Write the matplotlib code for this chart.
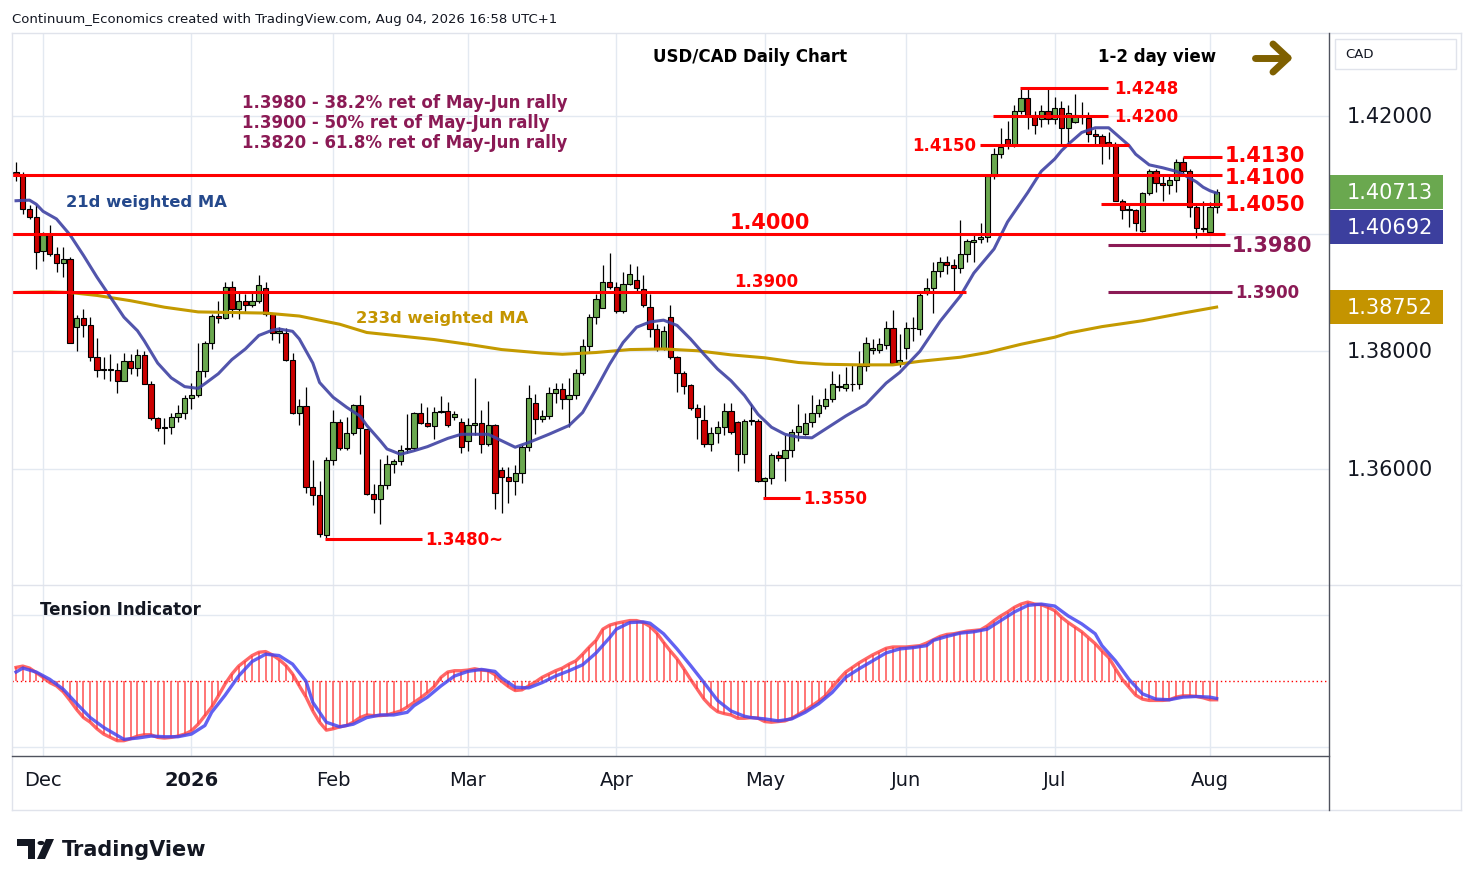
import numpy as np
import pandas as pd
import matplotlib
matplotlib.use("Agg")
import matplotlib.pyplot as plt
from matplotlib.lines import Line2D
from matplotlib.patches import Rectangle, Polygon, Circle

# USD/CAD daily candles, 25 Nov 2025 - 4 Aug 2026
opens = [
    1.4105, 1.4099, 1.4042, 1.4028,
    1.3971, 1.3998, 1.3965, 1.3950, 1.3957, 1.3842, 1.3857, 1.3844, 1.3791, 1.3770,
    1.3769, 1.3769, 1.3749, 1.3784, 1.3772, 1.3794, 1.3744, 1.3686, 1.3671, 1.3671,
    1.3688, 1.3695, 1.3720, 1.3726, 1.3766, 1.3814, 1.3860, 1.3856, 1.3909, 1.3872,
    1.3885, 1.3879, 1.3885, 1.3907, 1.3863, 1.3832, 1.3832, 1.3785, 1.3695, 1.3707,
    1.3569, 1.3556, 1.3488, 1.3615, 1.3680, 1.3635, 1.3661, 1.3708, 1.3668, 1.3557,
    1.3549, 1.3573, 1.3608, 1.3613, 1.3634, 1.3635, 1.3695, 1.3678, 1.3673, 1.3697,
    1.3698, 1.3688, 1.3680, 1.3648, 1.3674, 1.3678, 1.3642, 1.3674, 1.3598, 1.3586,
    1.3579, 1.3593, 1.3637, 1.3713, 1.3685, 1.3690, 1.3730, 1.3736, 1.3719, 1.3725,
    1.3763, 1.3809, 1.3858, 1.3874, 1.3918, 1.3910, 1.3869, 1.3914, 1.3922, 1.3906,
    1.3876, 1.3838, 1.3804, 1.3858, 1.3790, 1.3764, 1.3742, 1.3703, 1.3683, 1.3642,
    1.3662, 1.3671, 1.3699, 1.3680, 1.3625, 1.3682, 1.3682, 1.3580, 1.3584, 1.3623,
    1.3618, 1.3632, 1.3663, 1.3659, 1.3680, 1.3695, 1.3707, 1.3719, 1.3741, 1.3737,
    1.3744, 1.3744, 1.3775, 1.3802, 1.3802, 1.3811, 1.3839, 1.3781, 1.3805, 1.3839,
    1.3838, 1.3899, 1.3907, 1.3936, 1.3951, 1.3946, 1.3941, 1.3965, 1.3985, 1.3991,
    1.3994, 1.4098, 1.4135, 1.4161, 1.4150, 1.4208, 1.4231, 1.4202, 1.4195, 1.4208,
    1.4195, 1.4213, 1.4180, 1.4189, 1.4199, 1.4197, 1.4170, 1.4166, 1.4156, 1.4153,
    1.4056, 1.4040, 1.4040, 1.4005, 1.4069, 1.4106, 1.4086, 1.4083, 1.4091, 1.4121,
    1.4107, 1.4045, 1.4009, 1.4003, 1.4045]
highs = [
    1.4122, 1.4104, 1.4048, 1.4049,
    1.4003, 1.4015, 1.3977, 1.3977, 1.3960, 1.3861, 1.3872, 1.3858, 1.3822, 1.3790,
    1.3795, 1.3781, 1.3798, 1.3796, 1.3804, 1.3801, 1.3749, 1.3688, 1.3686, 1.3696,
    1.3708, 1.3725, 1.3747, 1.3815, 1.3818, 1.3863, 1.3886, 1.3918, 1.3919, 1.3899,
    1.3897, 1.3902, 1.3929, 1.3917, 1.3866, 1.3841, 1.3839, 1.3798, 1.3719, 1.3739,
    1.3615, 1.3580, 1.3620, 1.3701, 1.3685, 1.3688, 1.3710, 1.3725, 1.3668, 1.3574,
    1.3617, 1.3623, 1.3617, 1.3640, 1.3693, 1.3697, 1.3713, 1.3705, 1.3705, 1.3724,
    1.3714, 1.3698, 1.3686, 1.3686, 1.3754, 1.3700, 1.3716, 1.3676, 1.3603, 1.3603,
    1.3606, 1.3640, 1.3742, 1.3727, 1.3700, 1.3739, 1.3747, 1.3747, 1.3755, 1.3770,
    1.3821, 1.3863, 1.3897, 1.3946, 1.3967, 1.3917, 1.3934, 1.3948, 1.3945, 1.3929,
    1.3897, 1.3846, 1.3843, 1.3878, 1.3792, 1.3766, 1.3745, 1.3710, 1.3708, 1.3671,
    1.3682, 1.3713, 1.3713, 1.3682, 1.3685, 1.3710, 1.3685, 1.3587, 1.3628, 1.3631,
    1.3657, 1.3668, 1.3710, 1.3696, 1.3725, 1.3719, 1.3737, 1.3767, 1.3761, 1.3773,
    1.3776, 1.3801, 1.3824, 1.3821, 1.3822, 1.3852, 1.3871, 1.3829, 1.3850, 1.3858,
    1.3900, 1.3924, 1.3951, 1.3960, 1.3962, 1.3957, 1.4023, 1.3991, 1.3997, 1.4018,
    1.4100, 1.4145, 1.4180, 1.4192, 1.4218, 1.4246, 1.4248, 1.4209, 1.4218, 1.4246,
    1.4232, 1.4226, 1.4218, 1.4237, 1.4223, 1.4206, 1.4178, 1.4170, 1.4172, 1.4155,
    1.4059, 1.4048, 1.4042, 1.4071, 1.4110, 1.4110, 1.4099, 1.4099, 1.4127, 1.4130,
    1.4110, 1.4050, 1.4056, 1.4054, 1.4076]
lows = [
    1.4090, 1.4033, 1.4025, 1.3940,
    1.3954, 1.3962, 1.3935, 1.3926, 1.3814, 1.3800, 1.3824, 1.3784, 1.3756, 1.3753,
    1.3750, 1.3730, 1.3749, 1.3762, 1.3758, 1.3744, 1.3683, 1.3665, 1.3642, 1.3659,
    1.3680, 1.3685, 1.3702, 1.3722, 1.3756, 1.3804, 1.3849, 1.3855, 1.3858, 1.3855,
    1.3866, 1.3876, 1.3882, 1.3860, 1.3820, 1.3815, 1.3783, 1.3694, 1.3674, 1.3560,
    1.3538, 1.3485, 1.3483, 1.3606, 1.3632, 1.3632, 1.3657, 1.3626, 1.3555, 1.3526,
    1.3506, 1.3566, 1.3594, 1.3606, 1.3628, 1.3633, 1.3676, 1.3671, 1.3651, 1.3695,
    1.3671, 1.3683, 1.3628, 1.3631, 1.3657, 1.3628, 1.3639, 1.3532, 1.3526, 1.3543,
    1.3555, 1.3576, 1.3631, 1.3660, 1.3680, 1.3685, 1.3713, 1.3702, 1.3671, 1.3719,
    1.3759, 1.3801, 1.3846, 1.3873, 1.3906, 1.3866, 1.3866, 1.3912, 1.3903, 1.3876,
    1.3824, 1.3801, 1.3803, 1.3787, 1.3731, 1.3727, 1.3700, 1.3651, 1.3637, 1.3631,
    1.3645, 1.3657, 1.3660, 1.3597, 1.3611, 1.3674, 1.3578, 1.3552, 1.3574, 1.3614,
    1.3580, 1.3620, 1.3648, 1.3657, 1.3672, 1.3688, 1.3702, 1.3714, 1.3733, 1.3733,
    1.3733, 1.3736, 1.3767, 1.3796, 1.3797, 1.3804, 1.3776, 1.3773, 1.3787, 1.3817,
    1.3827, 1.3895, 1.3866, 1.3926, 1.3931, 1.3900, 1.3933, 1.3951, 1.3951, 1.3984,
    1.3985, 1.4093, 1.4128, 1.4144, 1.4148, 1.4203, 1.4178, 1.4169, 1.4181, 1.4186,
    1.4186, 1.4150, 1.4150, 1.4188, 1.4186, 1.4155, 1.4150, 1.4118, 1.4127, 1.4055,
    1.4025, 1.4011, 1.4005, 1.4002, 1.4065, 1.4070, 1.4056, 1.4067, 1.4070, 1.4103,
    1.4028, 1.3992, 1.4002, 1.4001, 1.4035]
closes = [
    1.4099, 1.4042, 1.4028, 1.3968,
    1.3997, 1.3965, 1.3950, 1.3957, 1.3814, 1.3857, 1.3845, 1.3791, 1.3768, 1.3769,
    1.3770, 1.3749, 1.3784, 1.3772, 1.3794, 1.3744, 1.3686, 1.3669, 1.3670, 1.3688,
    1.3695, 1.3720, 1.3726, 1.3766, 1.3814, 1.3860, 1.3856, 1.3909, 1.3872, 1.3885,
    1.3879, 1.3885, 1.3913, 1.3863, 1.3832, 1.3835, 1.3785, 1.3696, 1.3707, 1.3569,
    1.3556, 1.3490, 1.3615, 1.3680, 1.3635, 1.3661, 1.3708, 1.3670, 1.3557, 1.3549,
    1.3573, 1.3608, 1.3614, 1.3633, 1.3635, 1.3695, 1.3678, 1.3673, 1.3697, 1.3698,
    1.3674, 1.3694, 1.3637, 1.3674, 1.3678, 1.3642, 1.3674, 1.3559, 1.3586, 1.3579,
    1.3593, 1.3637, 1.3720, 1.3685, 1.3690, 1.3730, 1.3736, 1.3719, 1.3725, 1.3763,
    1.3809, 1.3858, 1.3889, 1.3918, 1.3910, 1.3869, 1.3914, 1.3931, 1.3908, 1.3878,
    1.3838, 1.3804, 1.3834, 1.3790, 1.3764, 1.3741, 1.3703, 1.3688, 1.3642, 1.3662,
    1.3671, 1.3699, 1.3663, 1.3625, 1.3682, 1.3683, 1.3580, 1.3584, 1.3623, 1.3618,
    1.3632, 1.3663, 1.3673, 1.3678, 1.3695, 1.3708, 1.3719, 1.3744, 1.3740, 1.3744,
    1.3745, 1.3775, 1.3814, 1.3806, 1.3812, 1.3839, 1.3781, 1.3786, 1.3839, 1.3840,
    1.3896, 1.3907, 1.3936, 1.3951, 1.3946, 1.3941, 1.3965, 1.3987, 1.3989, 1.3995,
    1.4098, 1.4135, 1.4147, 1.4150, 1.4208, 1.4231, 1.4202, 1.4185, 1.4208, 1.4195,
    1.4213, 1.4180, 1.4205, 1.4201, 1.4198, 1.4170, 1.4166, 1.4151, 1.4152, 1.4056,
    1.4040, 1.4040, 1.4018, 1.4069, 1.4106, 1.4086, 1.4083, 1.4091, 1.4121, 1.4107,
    1.4045, 1.4009, 1.4008, 1.4045, 1.4071]

# 21d weighted MA, read at bar numbers (bar 0 = 25 Nov 2025)
wma21_bars = [0, 2, 3, 4, 6, 8, 10, 12, 14, 16, 18, 19, 21, 23, 25, 27, 28, 30, 32,
              34, 36, 38, 39, 41, 42, 44, 45, 47, 49, 51, 52, 54, 55, 57, 59, 61,
              64, 66, 68, 70, 72, 74, 76, 79, 82, 84, 86, 88, 90, 92, 94, 96, 98,
              100, 102, 104, 106, 108, 110, 112, 114, 116, 118, 123, 126, 129, 131,
              134, 137, 140, 142, 145, 147, 150, 152, 154, 155, 156, 158, 160, 162,
              163, 165, 166, 168, 170, 172, 173, 175, 176, 177, 178]
wma21_vals = [1.4056, 1.4057, 1.4050, 1.4038, 1.4025, 1.3998, 1.3963, 1.3926, 1.3892,
              1.3858, 1.3835, 1.3818, 1.3780, 1.3755, 1.3740, 1.3737, 1.3745, 1.3762,
              1.3786, 1.3804, 1.3827, 1.3836, 1.3838, 1.3834, 1.3821, 1.3780, 1.3747,
              1.3722, 1.3705, 1.3690, 1.3674, 1.3648, 1.3634, 1.3625, 1.3631, 1.3638,
              1.3652, 1.3659, 1.3659, 1.3659, 1.3648, 1.3637, 1.3645, 1.3659, 1.3674,
              1.3696, 1.3736, 1.3778, 1.3815, 1.3841, 1.3850, 1.3853, 1.3844, 1.3821,
              1.3795, 1.3770, 1.3750, 1.3725, 1.3693, 1.3671, 1.3659, 1.3654, 1.3653,
              1.3690, 1.3710, 1.3746, 1.3764, 1.3800, 1.3851, 1.3894, 1.3933, 1.3974,
              1.4020, 1.4070, 1.4106, 1.4127, 1.4141, 1.4152, 1.4172, 1.4180, 1.4180,
              1.4170, 1.4150, 1.4135, 1.4117, 1.4112, 1.4106, 1.4101, 1.4088, 1.4079,
              1.4073, 1.4069]

# 233d weighted MA
ma233_bars = [0, 5, 8, 12, 17, 22, 27, 32, 37, 42, 48, 52, 57, 62, 67, 72, 78, 81, 86,
              91, 96, 101, 106, 111, 116, 120, 125, 130, 134, 140, 144, 149, 154, 156,
              161, 167, 173, 178]
ma233_vals = [1.3900, 1.3901, 1.3900, 1.3895, 1.3886, 1.3875, 1.3867, 1.3866, 1.3865,
              1.3860, 1.3846, 1.3832, 1.3826, 1.3820, 1.3812, 1.3803, 1.3797, 1.3795,
              1.3798, 1.3803, 1.3804, 1.3801, 1.3794, 1.3789, 1.3781, 1.3778, 1.3777,
              1.3777, 1.3783, 1.3790, 1.3798, 1.3812, 1.3824, 1.3831, 1.3842, 1.3852,
              1.3865, 1.38752]

# Tension indicator: fast line (one value per bar) and slow line (read at bar numbers)
tension_fast = [
    0.21, 0.23, 0.20, 0.13,
    0.06, -0.02, -0.07, -0.16, -0.29, -0.43, -0.55, -0.62, -0.72, -0.80,
    -0.85, -0.90, -0.90, -0.87, -0.83, -0.81, -0.81, -0.85, -0.86, -0.85,
    -0.83, -0.80, -0.75, -0.65, -0.52, -0.39, -0.22, -0.04, 0.11, 0.23,
    0.31, 0.39, 0.44, 0.45, 0.40, 0.33, 0.24, 0.11, -0.07, -0.24,
    -0.45, -0.62, -0.74, -0.72, -0.69, -0.67, -0.62, -0.55, -0.51, -0.52,
    -0.52, -0.51, -0.48, -0.45, -0.39, -0.32, -0.25, -0.17, -0.08, 0.06,
    0.14, 0.16, 0.16, 0.17, 0.19, 0.17, 0.16, 0.10, 0.00, -0.08,
    -0.14, -0.13, -0.07, -0.01, 0.06, 0.11, 0.16, 0.20, 0.26, 0.31,
    0.41, 0.52, 0.62, 0.79, 0.85, 0.88, 0.90, 0.92, 0.92, 0.89,
    0.83, 0.73, 0.59, 0.46, 0.34, 0.19, 0.03, -0.12, -0.27, -0.38,
    -0.46, -0.49, -0.51, -0.56, -0.56, -0.55, -0.56, -0.61, -0.62, -0.61,
    -0.60, -0.56, -0.50, -0.44, -0.37, -0.30, -0.22, -0.09, 0.03, 0.14,
    0.21, 0.28, 0.34, 0.40, 0.45, 0.50, 0.52, 0.52, 0.52, 0.53,
    0.54, 0.58, 0.63, 0.68, 0.71, 0.72, 0.74, 0.76, 0.77, 0.78,
    0.84, 0.92, 0.99, 1.05, 1.12, 1.17, 1.20, 1.17, 1.16, 1.12,
    1.07, 0.97, 0.89, 0.82, 0.75, 0.66, 0.57, 0.46, 0.36, 0.19,
    0.03, -0.09, -0.21, -0.27, -0.29, -0.29, -0.29, -0.28, -0.24, -0.22,
    -0.22, -0.23, -0.25, -0.28, -0.28]
tension_slow_bars = [0, 1, 3, 5, 7, 9, 11, 13, 15, 16, 18, 20, 22, 24, 26, 28, 29, 31,
                     33, 35, 37, 39, 41, 43, 44, 46, 48, 50, 52, 54, 56, 58, 59, 61, 63,
                     65, 67, 69, 71, 72, 74, 76, 78, 80, 82, 84, 86, 88, 89, 91, 93, 94,
                     96, 98, 100, 102, 104, 106, 108, 109, 111, 113, 115, 117, 119, 121,
                     123, 125, 127, 129, 131, 133, 135, 136, 138, 140, 142, 144, 146,
                     148, 150, 152, 154, 156, 158, 160, 161, 163, 165, 167, 169, 171,
                     173, 175, 177, 178]
tension_slow_vals = [0.14, 0.20, 0.14, 0.03, -0.12, -0.34, -0.55, -0.70, -0.82, -0.88,
                     -0.86, -0.83, -0.84, -0.84, -0.80, -0.67, -0.47, -0.21, 0.08, 0.30,
                     0.41, 0.39, 0.26, 0.00, -0.32, -0.62, -0.69, -0.65, -0.55, -0.51,
                     -0.51, -0.47, -0.37, -0.24, -0.07, 0.08, 0.15, 0.18, 0.15, 0.05,
                     -0.09, -0.10, -0.02, 0.08, 0.16, 0.25, 0.43, 0.66, 0.79, 0.89, 0.90,
                     0.88, 0.72, 0.49, 0.24, -0.02, -0.29, -0.45, -0.53, -0.55, -0.57,
                     -0.60, -0.57, -0.47, -0.34, -0.17, 0.06, 0.19, 0.31, 0.43, 0.49,
                     0.51, 0.54, 0.62, 0.68, 0.73, 0.75, 0.79, 0.92, 1.05, 1.15, 1.17,
                     1.14, 0.99, 0.87, 0.72, 0.54, 0.31, 0.03, -0.19, -0.27, -0.28,
                     -0.24, -0.23, -0.24, -0.26]

month_labels = ["Dec", "2026", "Feb", "Mar", "Apr", "May", "Jun", "Jul", "Aug"]
price_ticks = [1.42, 1.38, 1.36]
last_values = ["1.40713", "1.40692", "1.38752"]
fib_notes = ["1.3980 - 38.2% ret of May-Jun rally",
             "1.3900 - 50% ret of May-Jun rally",
             "1.3820 - 61.8% ret of May-Jun rally"]

dates = pd.bdate_range("2025-11-25", "2026-08-04")
dates = dates[~dates.isin(pd.to_datetime(["2025-12-25", "2026-01-01"]))]
bars = np.arange(len(dates))

W, H = 1474, 887
fig = plt.figure(figsize=(W / 100, H / 100), dpi=100)
fig.patch.set_facecolor("white")


def fx(px):
    return px / W


def fy(py):
    return 1 - py / H


ax = fig.add_axes([fx(12), fy(586), fx(1329) - fx(12), fy(34) - fy(586)])
axi = fig.add_axes([fx(12), fy(757), fx(1329) - fx(12), fy(586) - fy(757)])
for a in (ax, axi):
    a.set_xlim(-0.6, 194.66)
    a.set_xticks([])
    a.set_yticks([])
    for s in a.spines.values():
        s.set_visible(False)
    a.patch.set_alpha(0)
ax.set_ylim(1.34028, 1.43411)
axi.set_ylim(-1.132, 1.459)

# grid
grid_c = "#e3e9f1"
month_start = [i for i in range(1, len(dates)) if dates[i].month != dates[i - 1].month]
for a in (ax, axi):
    for m in month_start:
        a.axvline(m, color=grid_c, lw=1, zorder=0)
for p in [1.36, 1.38, 1.40, 1.42]:
    ax.axhline(p, color=grid_c, lw=1, zorder=0)
for v in [-1, 1]:
    axi.axhline(v, color=grid_c, lw=1, zorder=0)

# candles
o, h, l, c = map(np.array, (opens, highs, lows, closes))
h = np.maximum(h, np.maximum(o, c))
l = np.minimum(l, np.minimum(o, c))
up = c >= o
ax.vlines(bars, l, h, color="black", lw=0.9, zorder=2)
ax.bar(bars, np.maximum(np.abs(c - o), 0.00012), bottom=np.minimum(o, c), width=0.78,
       color=np.where(up, "#6aa84f", "#cc0000"), edgecolor="black", lw=0.8, zorder=3)

# moving averages
ax.plot(ma233_bars, ma233_vals, color="#c49a00", lw=2.2, zorder=4)
ax.plot(wma21_bars, wma21_vals, color="#3f42a3", lw=2.2, zorder=4, alpha=0.9)

# levels: (price, start bar, end bar)
red = "#ff0000"
maroon = "#8b1a55"
ax.hlines(1.4248, 148.8, 161.9, color=red, lw=2.2, zorder=5)
ax.hlines(1.4200, 144.8, 161.9, color=red, lw=2.2, zorder=5)
ax.hlines(1.4150, 142.9, 165.0, color=red, lw=2.2, zorder=5)
ax.hlines(1.4130, 173.0, 178.8, color=red, lw=2.2, zorder=5)
ax.hlines(1.4100, -1, 178.8, color=red, lw=2.2, zorder=5)
ax.hlines(1.4050, 160.9, 178.8, color=red, lw=2.2, zorder=5)
ax.hlines(1.4000, -1, 179.2, color=red, lw=2.2, zorder=5)
ax.hlines(1.3900, -1, 140.8, color=red, lw=2.2, zorder=5)
ax.hlines(1.3550, 110.7, 116.2, color=red, lw=2.2, zorder=5)
ax.hlines(1.3481, 45.8, 60.2, color=red, lw=2.2, zorder=5)
ax.hlines(1.3980, 161.9, 180.0, color=maroon, lw=2.2, zorder=5)
ax.hlines(1.3900, 161.9, 180.3, color=maroon, lw=2.2, zorder=5)

big, small = 15, 12
kw = dict(fontweight="bold")
ax.text(162.8, 1.4248, "1.4248", color=red, fontsize=small, va="center", ha="left", **kw)
ax.text(162.8, 1.4200, "1.4200", color=red, fontsize=small, va="center", ha="left", **kw)
ax.text(142.4, 1.4150, "1.4150", color=red, fontsize=small, va="center", ha="right", **kw)
ax.text(179.2, 1.4133, "1.4130", color=red, fontsize=big, va="center", ha="left", **kw)
ax.text(179.2, 1.4097, "1.4100", color=red, fontsize=big, va="center", ha="left", **kw)
ax.text(179.2, 1.4050, "1.4050", color=red, fontsize=big, va="center", ha="left", **kw)
ax.text(111.8, 1.40025, "1.4000", color=red, fontsize=big, va="bottom", ha="center", **kw)
ax.text(111.3, 1.39045, "1.3900", color=red, fontsize=small, va="bottom", ha="center", **kw)
ax.text(180.3, 1.3980, "1.3980", color=maroon, fontsize=big, va="center", ha="left", **kw)
ax.text(180.7, 1.3900, "1.3900", color=maroon, fontsize=small, va="center", ha="left", **kw)
ax.text(116.7, 1.3550, "1.3550", color=red, fontsize=small, va="center", ha="left", **kw)
ax.text(60.6, 1.3481, "1.3480~", color=red, fontsize=small, va="center", ha="left", **kw)

for i, note in enumerate(fib_notes):
    fig.text(fx(242), fy(103 + 20 * i), note, color=maroon, fontsize=12, va="center", **kw)
fig.text(fx(66), fy(203), "21d weighted MA", color="#25498c", fontsize=11.8,
         fontweight="bold", va="center")
fig.text(fx(356), fy(319), "233d weighted MA", color="#c49500", fontsize=11.8,
         fontweight="bold", va="center")

# tension indicator
tf = np.array(tension_fast)
axi.axhline(0, color=red, lw=1, ls=(0, (1, 2)), zorder=1)
axi.vlines(bars, 0, tf, color="#ff5050", lw=1.1, zorder=2)
axi.plot(bars, tf, color="#ff4040", lw=2.4, alpha=0.8, zorder=3)
axi.plot(tension_slow_bars, tension_slow_vals, color="#4646f0", lw=2.4, alpha=0.85, zorder=4)
fig.text(fx(40), fy(610), "Tension Indicator", color="#131722", fontsize=12, va="center", **kw)

# date axis
for m, lab in zip(month_start, month_labels):
    axi.text(m, -0.14, lab, transform=axi.get_xaxis_transform(), ha="center", va="center",
             fontsize=14, color="#131722", fontweight="bold" if lab == "2026" else "normal")

# price scale
for p in price_ticks:
    ax.text(1.0137, p, f"{p:.5f}", transform=ax.get_yaxis_transform(), va="center",
            ha="left", fontsize=15, color="#131722", clip_on=False)


def price_py(p):
    return H - ax.transData.transform((0, p))[1]


box_colors = ["#6aa84f", "#3c3f9e", "#c49400"]
box_centers = [price_py(float(last_values[0])), price_py(float(last_values[0])) + 35,
               price_py(float(last_values[2]))]
for val, col, cy in zip(last_values, box_colors, box_centers):
    fig.patches.append(Rectangle((fx(1330), fy(cy + 17)), fx(1443) - fx(1330), 34 / H,
                                 facecolor=col, edgecolor="none", transform=fig.transFigure))
    fig.text(fx(1390), fy(cy), val, color="white", fontsize=15, ha="center", va="center")

fig.patches.append(Rectangle((fx(1335), fy(70)), fx(1456) - fx(1335), 30 / H, facecolor="white",
                             edgecolor="#e0e3eb", lw=1, transform=fig.transFigure))
fig.text(fx(1345), fy(55), "CAD", fontsize=9.5, color="#131722", va="center")

# frame
light, dark = "#e0e3eb", "#50535e"
for (x0, y0, x1, y1, col) in [(12, 34, 1461, 34, light), (12, 34, 12, 811, light),
                              (1461, 34, 1461, 811, light), (12, 811, 1461, 811, light),
                              (12, 586, 1461, 586, light), (12, 757, 1329, 757, dark),
                              (1329, 34, 1329, 811, dark)]:
    fig.add_artist(Line2D([fx(x0), fx(x1)], [fy(y0), fy(y1)], color=col, lw=1))

# titles
fig.text(fx(12), fy(19), "Continuum_Economics created with TradingView.com, Aug 04, 2026 16:58 UTC+1",
         fontsize=9.5, color="#131722", va="center")
fig.text(fx(653), fy(57), "USD/CAD Daily Chart", fontsize=12, color="black", va="center", **kw)
fig.text(fx(1098), fy(57), "1-2 day view", fontsize=12, color="black", va="center", **kw)
arrow_c = "#7f6000"
for seg in [((1255, 59), (1286, 59)), ((1273, 45), (1288, 59)), ((1288, 59), (1273, 73))]:
    fig.add_artist(Line2D([fx(seg[0][0]), fx(seg[1][0])], [fy(seg[0][1]), fy(seg[1][1])],
                          color=arrow_c, lw=5, solid_capstyle="round"))

# TradingView logo
fig.patches.append(Polygon([(fx(17), fy(840)), (fx(35), fy(840)), (fx(35), fy(860)), (fx(28), fy(860)),
                            (fx(28), fy(847)), (fx(17), fy(847))], closed=True, facecolor="#131722",
                           transform=fig.transFigure))
fig.patches.append(Circle((fx(41), fy(844)), 3.5 / W, facecolor="#131722", transform=fig.transFigure))
fig.patches.append(Polygon([(fx(46), fy(840)), (fx(54), fy(840)), (fx(45), fy(860)), (fx(37), fy(860))],
                           closed=True, facecolor="#131722", transform=fig.transFigure))
fig.text(fx(62), fy(850), "TradingView", fontsize=15, fontweight="bold", color="#131722", va="center")

fig.savefig("out.png", dpi=100)
